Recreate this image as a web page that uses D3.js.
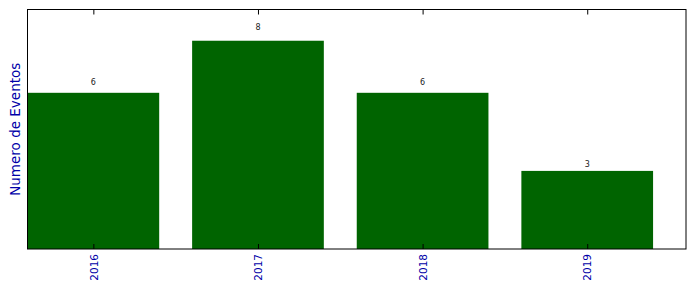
<!DOCTYPE html>
<html lang="en">
  <head>
    <meta charset="UTF-8" />
    <title>Numero de Eventos</title>
    <script src="https://d3js.org/d3.v7.min.js"></script>
    <style>
      body {
        margin: 0;
        background: #fff;
      }
      text {
        font-family: "DejaVu Sans", sans-serif;
      }
      .frame {
        fill: none;
        stroke: #000;
        stroke-width: 1;
      }
    </style>
  </head>
  <body>
    <svg id="svg" width="696" height="292"></svg>

    <script>
      // data
      const years = ["2016", "2017", "2018", "2019"];
      const eventos = [6, 8, 6, 3];

      const svg = d3.select("#svg");
      const plotLeft = 27.5,
        plotRight = 686,
        plotTop = 9.5,
        plotBottom = 249;

      const x = d3.scaleLinear().domain([-0.4, 3.6]).range([plotLeft, plotRight]);
      const y = d3
        .scaleLinear()
        .domain([0, d3.max(eventos) * 1.15])
        .range([plotBottom, plotTop]);

      const barW = x(0.8) - x(0);

      svg
        .append("g")
        .selectAll("rect")
        .data(eventos)
        .enter()
        .append("rect")
        .attr("x", (d, i) => x(i - 0.4))
        .attr("y", (d) => y(d))
        .attr("width", barW)
        .attr("height", (d) => y(0) - y(d))
        .attr("fill", "#006400");

      // value labels above bars
      svg
        .append("g")
        .selectAll("text")
        .data(eventos)
        .enter()
        .append("text")
        .attr("x", (d, i) => x(i))
        .attr("y", (d) => y(d * 1.05))
        .attr("text-anchor", "middle")
        .attr("font-size", 8)
        .attr("fill", "#222")
        .text((d) => d);

      // bottom axis, ticks pointing inward
      const xAxis = d3
        .axisBottom(x)
        .tickValues(d3.range(years.length))
        .tickSizeInner(-5)
        .tickSizeOuter(0)
        .tickFormat((i) => years[i]);

      const gx = svg
        .append("g")
        .attr("transform", `translate(0,${plotBottom})`)
        .call(xAxis);
      gx.select(".domain").remove();
      gx.selectAll("line").attr("stroke", "#000");
      gx.selectAll("text")
        .attr("fill", "#0000a8")
        .attr("font-size", 10.5)
        .attr("text-anchor", "end")
        .attr("x", 0)
        .attr("y", 0)
        .attr("dy", "0.35em")
        .attr("transform", "translate(0,5) rotate(-90)");

      // top ticks
      const gt = svg
        .append("g")
        .attr("transform", `translate(0,${plotTop})`)
        .call(
          d3
            .axisTop(x)
            .tickValues(d3.range(years.length))
            .tickSizeInner(-5)
            .tickSizeOuter(0)
            .tickFormat("")
        );
      gt.select(".domain").remove();
      gt.selectAll("line").attr("stroke", "#000");

      svg
        .append("rect")
        .attr("class", "frame")
        .attr("x", plotLeft)
        .attr("y", plotTop)
        .attr("width", plotRight - plotLeft)
        .attr("height", plotBottom - plotTop);

      svg
        .append("text")
        .attr("transform", `translate(20,${(plotTop + plotBottom) / 2}) rotate(-90)`)
        .attr("text-anchor", "middle")
        .attr("font-size", 13.5)
        .attr("fill", "#0000a8")
        .text("Numero de Eventos");
    </script>
  </body>
</html>
